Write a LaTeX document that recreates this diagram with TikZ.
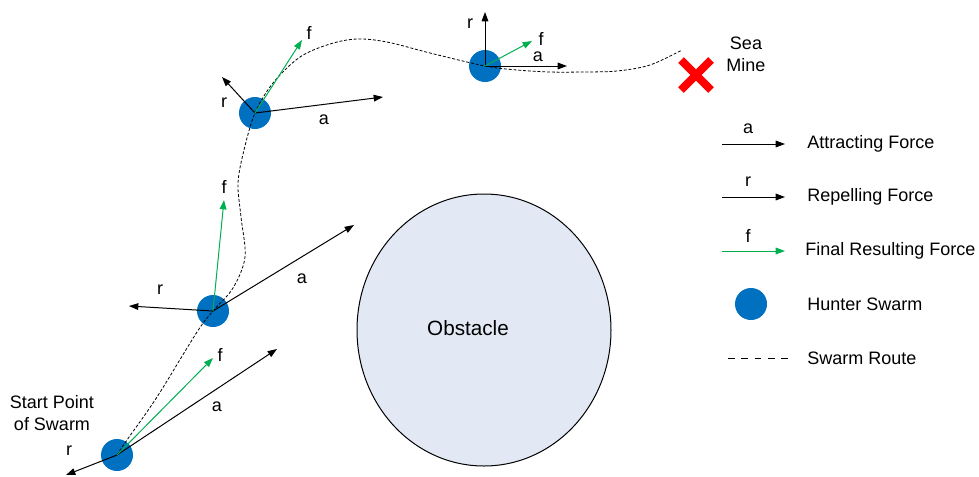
\documentclass[tikz,border=0pt]{standalone}
\usepackage{fontspec}
\setmainfont{Liberation Sans}
\usetikzlibrary{arrows.meta,shapes.geometric,calc}
\definecolor{swarmblue}{HTML}{0070C0}
\definecolor{forcegreen}{HTML}{00B050}
\definecolor{obstfill}{HTML}{E2E9F5}
\definecolor{minered}{HTML}{FF0000}
\begin{document}
\begin{tikzpicture}[x=0.75pt,y=-0.75pt,
  every node/.style={font=\fontsize{13.5}{16.5}\selectfont},
  swarm/.style={circle,fill=swarmblue,draw=none,minimum size=24pt,inner sep=0pt},
  blackforce/.style={draw=black,line width=0.75pt,-{Triangle[length=7pt,width=5pt]}},
  greenforce/.style={draw=forcegreen,line width=0.75pt,-{Triangle[length=7pt,width=5pt]}},
  route/.style={draw=black,line width=0.6pt,dash pattern=on 2.2pt off 1.4pt},
  legroute/.style={draw=black,line width=0.75pt,dash pattern=on 5pt off 5pt},
  lbl/.style={inner sep=0pt,anchor=center},
  legtext/.style={inner sep=0pt,anchor=west}]
\useasboundingbox (0,0) rectangle (979,476);

% obstacle
\node[ellipse,draw=black,line width=0.75pt,fill=obstfill,minimum width=190.5pt,minimum height=204pt]
  (obstacle) at (484,330) {};
\node[lbl,font=\fontsize{15.5}{18}\selectfont] (obstlbl) at (468,328) {Obstacle};

% swarm positions
\node[swarm] (s1) at (117,455) {};
\node[swarm] (s2) at (213,311) {};
\node[swarm] (s3) at (255,113) {};
\node[swarm] (s4) at (485,66) {};

% sea mine
\coordinate (mine) at (696,75);
\draw[minered,line width=6pt] ($(mine)+(-15,-15)$) -- ($(mine)+(15,15)$);
\draw[minered,line width=6pt] ($(mine)+(15,-15)$) -- ($(mine)+(-15,15)$);
\node[lbl,align=center] (minelbl) at (746,54) {Sea\\Mine};

% swarm route
\coordinate (routeend) at (682,50);
\draw[route] plot[smooth,tension=0.55] coordinates {
  (s1.center) (127,440) (157,397) (197,332) (s2.center) (233,288) (245,257) (241,217)
  (238,183) (244,150) (s3.center) (273,83) (300,57) (330,44) (357,39)
  (387,42) (430,53) (s4.center) (517,70) (550,72) (583,72) (617,71)
  (650,65) (routeend)};

% force endpoints
\coordinate (a1) at (277,349); \coordinate (f1) at (213,358); \coordinate (r1) at (66,475);
\coordinate (a2) at (354,225); \coordinate (f2) at (224,200); \coordinate (r2) at (129,306);
\coordinate (a3) at (383,97);  \coordinate (f3) at (302,40);  \coordinate (r3) at (222,77);
\coordinate (a4) at (567,66);  \coordinate (f4) at (532,41);  \coordinate (r4) at (485,12);

\foreach \i in {1,2,3,4}{
  \draw[blackforce] (s\i.center) -- (a\i);
  \draw[blackforce] (s\i.center) -- (r\i);
  \draw[greenforce] (s\i.center) -- (f\i);
}

% force labels
\node[lbl] (la1) at (217,407) {a}; \node[lbl] (lf1) at (220,355) {f}; \node[lbl] (lr1) at (69,451) {r};
\node[lbl] (la2) at (302,279) {a}; \node[lbl] (lf2) at (224,187) {f}; \node[lbl] (lr2) at (160,290) {r};
\node[lbl] (la3) at (324,120) {a}; \node[lbl] (lf3) at (309,33)  {f}; \node[lbl] (lr3) at (224,103) {r};
\node[lbl] (la4) at (538,57)  {a}; \node[lbl] (lf4) at (541,39)  {f}; \node[lbl] (lr4) at (470,24)  {r};

\node[lbl,align=center] (start) at (52,413) {Start Point\\of Swarm};

% legend
\coordinate (la) at (722,144); \coordinate (lae) at (785,144);
\coordinate (lr) at (722,197); \coordinate (lre) at (785,197);
\coordinate (lf) at (722,251); \coordinate (lfe) at (785,251);
\coordinate (lrt) at (728,358); \coordinate (lrte) at (789,358);
\draw[blackforce] (la) -- (lae);
\draw[blackforce] (lr) -- (lre);
\draw[greenforce] (lf) -- (lfe);
\draw[legroute] (lrt) -- (lrte);
\node[swarm] (lsw) at (751,304) {};
\node[lbl] (lega) at (748,129) {a};
\node[lbl] (legr) at (748,182) {r};
\node[lbl] (legf) at (748,236) {f};
\node[legtext] (ta) at (807,144) {Attracting Force};
\node[legtext] (tr) at (807,197) {Repelling Force};
\node[legtext] (tf) at (805,251) {Final Resulting Force};
\node[legtext] (th) at (807,304) {Hunter Swarm};
\node[legtext] (tsr) at (807,358) {Swarm Route};
\end{tikzpicture}
\end{document}
